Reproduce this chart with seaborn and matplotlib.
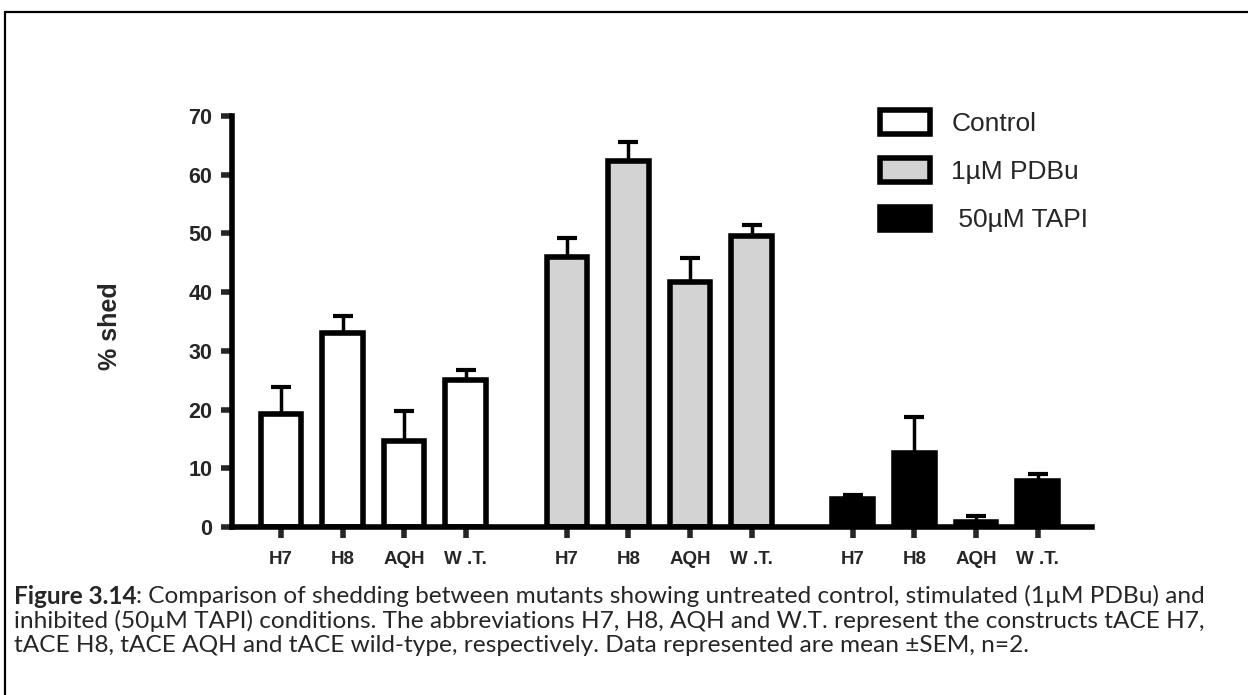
import pandas as pd
import seaborn as sns
import matplotlib.pyplot as plt
from matplotlib.patches import Patch
from matplotlib.lines import Line2D

# values (mean and SEM, % shed)
treatments = ["Control", "1\u00b5M PDBu", " 50\u00b5M TAPI"]
constructs = ["H7", "H8", "AQH", "W .T."]
control_mean = [19.3, 33.1, 14.6, 25.1]
control_sem = [4.5, 2.8, 5.2, 1.7]
pdbu_mean = [46.0, 62.3, 41.8, 49.5]
pdbu_sem = [3.3, 3.2, 4.0, 2.0]
tapi_mean = [4.8, 12.6, 0.9, 7.8]
tapi_sem = [0.7, 6.2, 1.0, 1.2]
y_ticks = [0, 10, 20, 30, 40, 50, 60, 70]
colors = ["white", "#d3d3d3", "black"]

group_gap = 4.643   # distance between first bars of neighbouring groups
rows = []
for g, (t, means, sems) in enumerate(zip(treatments,
                                          [control_mean, pdbu_mean, tapi_mean],
                                          [control_sem, pdbu_sem, tapi_sem])):
    for i, c in enumerate(constructs):
        rows.append({"pos": g * group_gap + i, "construct": c, "treatment": t,
                     "mean": means[i], "sem": sems[i]})
df = pd.DataFrame(rows)

sns.set_style("white")
arial = ["Liberation Sans", "DejaVu Sans"]
plt.rcParams["font.family"] = arial

fig = plt.figure(figsize=(12.48, 6.95), dpi=100)
W, H = 1248, 695
ax = fig.add_axes([232 / W, (H - 527) / H, (1092 - 232) / W, (527 - 116) / H])

sns.barplot(data=df, x="pos", y="mean", hue="treatment", palette=colors,
            native_scale=True, dodge=False, errorbar=None, width=0.66,
            saturation=1, edgecolor="black", linewidth=4, legend=False, ax=ax)

# upper-only error bars (mean + SEM)
ax.errorbar(df["pos"], df["mean"], yerr=[[0] * len(df), df["sem"]], fmt="none",
            ecolor="black", elinewidth=2.5, capsize=7.2, capthick=3, zorder=5)

sns.despine(ax=ax)
for s in ["left", "bottom"]:
    ax.spines[s].set_linewidth(4)
    ax.spines[s].set_color("black")
ax.tick_params(axis="y", direction="out", length=8, width=4, pad=6, left=True)
ax.tick_params(axis="x", direction="out", length=8, width=4, pad=9, bottom=True)

ax.set_xlim(-0.795, 13.17)
ax.set_ylim(0, 70)
ax.set_yticks(y_ticks, [str(v) for v in y_ticks], fontsize=15.5,
              fontweight="bold", family=arial)
ax.set_xticks(df["pos"], df["construct"], fontsize=13.5,
              fontweight="bold", family=arial)
ax.set_xlabel("")
ax.set_ylabel("")
fig.text(110 / W, 1 - 326 / H, "% shed", rotation=90, ha="center", va="center",
         fontsize=18, fontweight="bold")

handles = [Patch(facecolor=c, edgecolor="black", linewidth=4) for c in colors]
fig.legend(handles, treatments, loc="upper left",
           bbox_to_anchor=(880 / W, 1 - 110 / H), frameon=False,
           fontsize=19, handlelength=1.9, handleheight=1.0,
           handletextpad=0.8, labelspacing=0.85, borderpad=0, borderaxespad=0)

# caption
cap_font = ["Lato", "DejaVu Sans"]
cap_size = 17.6
t1 = fig.text(14 / W, 1 - 596 / H, "Figure 3.14", fontsize=cap_size,
              fontweight="bold", family=cap_font, va="center")
fig.canvas.draw()
bb = t1.get_window_extent()
fig.text(bb.x1 / W, 1 - 596 / H,
         ": Comparison of shedding between mutants showing untreated control, "
         "stimulated (1\u00b5M PDBu) and",
         fontsize=cap_size, family=cap_font, va="center")
fig.text(14 / W, 1 - 621 / H,
         "inhibited (50\u00b5M TAPI) conditions. The abbreviations H7, H8, AQH "
         "and W.T. represent the constructs tACE H7,",
         fontsize=cap_size, family=cap_font, va="center")
fig.text(14 / W, 1 - 646 / H,
         "tACE H8, tACE AQH and tACE wild-type, respectively. Data represented "
         "are mean \u00b1SEM, n=2.",
         fontsize=cap_size, family=cap_font, va="center")

# figure frame (top and left edges)
fig.add_artist(Line2D([5 / W, 5 / W], [0, 1 - 12 / H], color="black", lw=1.6,
                      transform=fig.transFigure))
fig.add_artist(Line2D([5 / W, 1], [1 - 12 / H, 1 - 12 / H], color="black", lw=1.6,
                      transform=fig.transFigure))

fig.savefig("out.png", dpi=100)
